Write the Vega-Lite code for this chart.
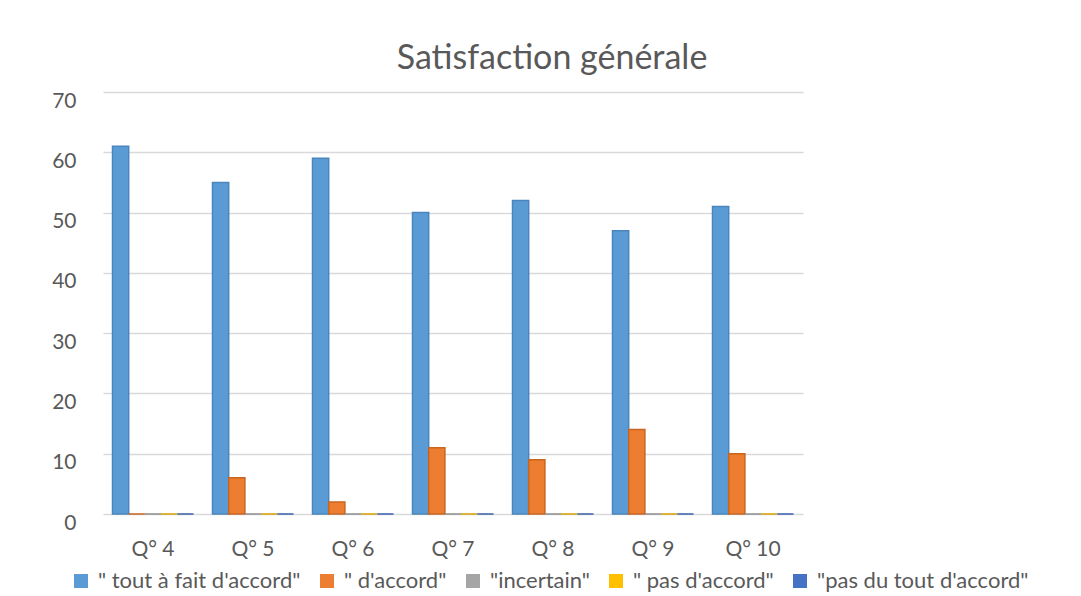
{
  "$schema": "https://vega.github.io/schema/vega-lite/v6.json",
  "width": 700,
  "height": 422,
  "autosize": "none",
  "padding": {"left": 103, "top": 92, "right": 278, "bottom": 82},
  "background": "white",
  "config": {
    "view": {"stroke": null},
    "font": "Lato"
  },
  "title": {
    "text": "Satisfaction générale",
    "fontSize": 34,
    "font": "Lato",
    "fontWeight": "normal",
    "color": "#595959",
    "anchor": "middle",
    "frame": "group",
    "baseline": "alphabetic",
    "offset": 22,
    "dx": 99,
    "dy": 35
  },
  "data": {
    "values": [
      {"q": "Q° 4", "serie": "\" tout à fait d'accord\"", "value": 61},
      {"q": "Q° 4", "serie": "\" d'accord\"", "value": 0},
      {"q": "Q° 4", "serie": "\"incertain\"", "value": 0},
      {"q": "Q° 4", "serie": "\" pas d'accord\"", "value": 0},
      {"q": "Q° 4", "serie": "\"pas du tout d'accord\"", "value": 0},
      {"q": "Q° 5", "serie": "\" tout à fait d'accord\"", "value": 55},
      {"q": "Q° 5", "serie": "\" d'accord\"", "value": 6},
      {"q": "Q° 5", "serie": "\"incertain\"", "value": 0},
      {"q": "Q° 5", "serie": "\" pas d'accord\"", "value": 0},
      {"q": "Q° 5", "serie": "\"pas du tout d'accord\"", "value": 0},
      {"q": "Q° 6", "serie": "\" tout à fait d'accord\"", "value": 59},
      {"q": "Q° 6", "serie": "\" d'accord\"", "value": 2},
      {"q": "Q° 6", "serie": "\"incertain\"", "value": 0},
      {"q": "Q° 6", "serie": "\" pas d'accord\"", "value": 0},
      {"q": "Q° 6", "serie": "\"pas du tout d'accord\"", "value": 0},
      {"q": "Q° 7", "serie": "\" tout à fait d'accord\"", "value": 50},
      {"q": "Q° 7", "serie": "\" d'accord\"", "value": 11},
      {"q": "Q° 7", "serie": "\"incertain\"", "value": 0},
      {"q": "Q° 7", "serie": "\" pas d'accord\"", "value": 0},
      {"q": "Q° 7", "serie": "\"pas du tout d'accord\"", "value": 0},
      {"q": "Q° 8", "serie": "\" tout à fait d'accord\"", "value": 52},
      {"q": "Q° 8", "serie": "\" d'accord\"", "value": 9},
      {"q": "Q° 8", "serie": "\"incertain\"", "value": 0},
      {"q": "Q° 8", "serie": "\" pas d'accord\"", "value": 0},
      {"q": "Q° 8", "serie": "\"pas du tout d'accord\"", "value": 0},
      {"q": "Q° 9", "serie": "\" tout à fait d'accord\"", "value": 47},
      {"q": "Q° 9", "serie": "\" d'accord\"", "value": 14},
      {"q": "Q° 9", "serie": "\"incertain\"", "value": 0},
      {"q": "Q° 9", "serie": "\" pas d'accord\"", "value": 0},
      {"q": "Q° 9", "serie": "\"pas du tout d'accord\"", "value": 0},
      {"q": "Q° 10", "serie": "\" tout à fait d'accord\"", "value": 51},
      {"q": "Q° 10", "serie": "\" d'accord\"", "value": 10},
      {"q": "Q° 10", "serie": "\"incertain\"", "value": 0},
      {"q": "Q° 10", "serie": "\" pas d'accord\"", "value": 0},
      {"q": "Q° 10", "serie": "\"pas du tout d'accord\"", "value": 0}
    ]
  },
  "mark": {"type": "bar", "strokeWidth": 1.5},
  "encoding": {
    "x": {
      "field": "q",
      "type": "nominal",
      "sort": null,
      "scale": {"paddingInner": 0.19, "paddingOuter": 0.095},
      "axis": {
        "title": null,
        "labelAngle": 0,
        "labelFontSize": 21,
        "labelColor": "#595959",
        "labelPadding": 24,
        "domain": false,
        "ticks": false,
        "labelFont": "Lato"
      }
    },
    "xOffset": {
      "field": "serie",
      "type": "nominal",
      "sort": ["\" tout à fait d'accord\"", "\" d'accord\"", "\"incertain\"", "\" pas d'accord\"", "\"pas du tout d'accord\""]
    },
    "y": {
      "field": "value",
      "type": "quantitative",
      "scale": {"domain": [0, 70], "nice": false},
      "axis": {
        "title": null,
        "values": [0, 10, 20, 30, 40, 50, 60, 70],
        "labelFontSize": 21,
        "labelColor": "#595959",
        "labelPadding": 27,
        "labelOffset": 9,
        "domain": false,
        "ticks": false,
        "gridColor": "#d9d9d9",
        "gridWidth": 1.3,
        "labelFont": "Lato"
      }
    },
    "color": {
      "field": "serie",
      "type": "nominal",
      "sort": ["\" tout à fait d'accord\"", "\" d'accord\"", "\"incertain\"", "\" pas d'accord\"", "\"pas du tout d'accord\""],
      "scale": {
        "domain": ["\" tout à fait d'accord\"", "\" d'accord\"", "\"incertain\"", "\" pas d'accord\"", "\"pas du tout d'accord\""],
        "range": ["#5B9BD5", "#ED7D31", "#A5A5A5", "#FFC000", "#4472C4"]
      },
      "legend": {
        "title": null,
        "orient": "none",
        "direction": "horizontal",
        "columns": 5,
        "legendX": -33,
        "legendY": 478,
        "symbolType": "square",
        "symbolSize": 196,
        "symbolStrokeWidth": 0,
        "labelFontSize": 22,
        "labelColor": "#595959",
        "labelFont": "Lato",
        "labelOffset": 6,
        "columnPadding": 15,
        "labelLimit": 400
      }
    },
    "stroke": {
      "field": "serie",
      "type": "nominal",
      "scale": {
        "domain": ["\" tout à fait d'accord\"", "\" d'accord\"", "\"incertain\"", "\" pas d'accord\"", "\"pas du tout d'accord\""],
        "range": ["#4a86bd", "#c9651f", "#8f8f8f", "#d9a300", "#3a62ab"]
      },
      "legend": null
    }
  }
}
